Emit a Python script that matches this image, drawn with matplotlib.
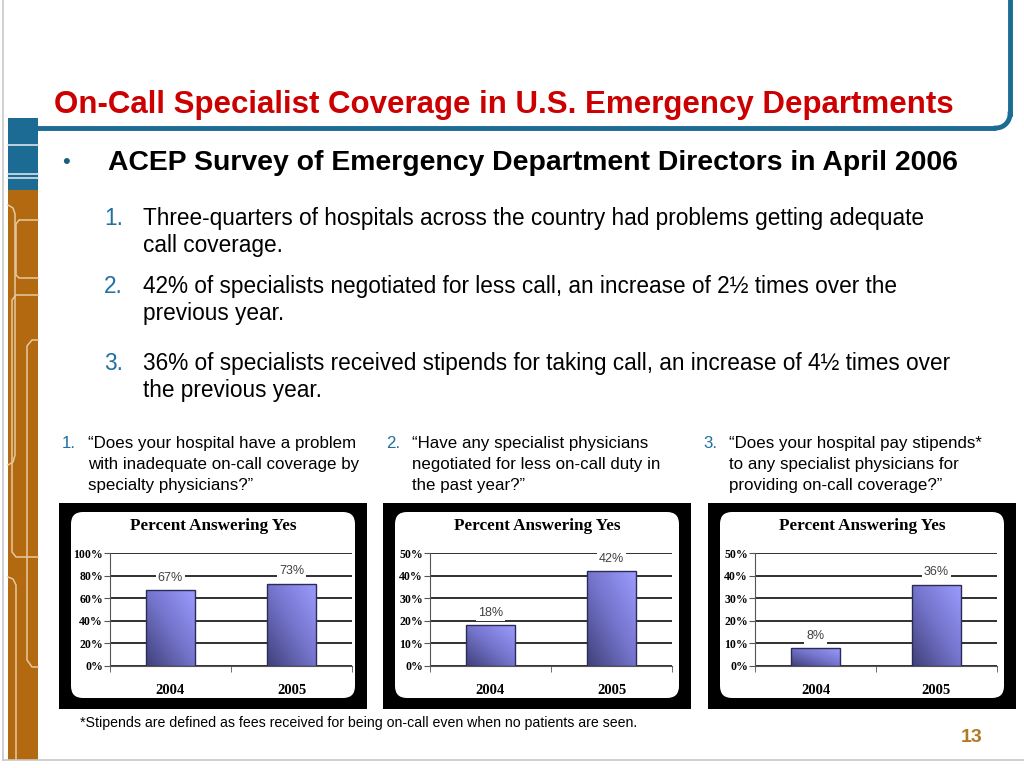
import numpy as np
import matplotlib
matplotlib.use("Agg")
from matplotlib import pyplot as plt
from matplotlib.patches import Rectangle, FancyBboxPatch
from matplotlib.ticker import FuncFormatter

# data
years = ["2004", "2005"]
problem_pct = [67, 73]
negotiated_pct = [18, 42]
stipend_pct = [8, 36]

chart_values = [problem_pct, negotiated_pct, stipend_pct]
chart_ymax = [100, 50, 50]
chart_ystep = [20, 10, 10]

title = "On-Call Specialist Coverage in U.S. Emergency Departments"
subtitle = "ACEP Survey of Emergency Department Directors in April 2006"
points = [
    ["Three-quarters of hospitals across the country had problems getting adequate",
     "call coverage."],
    ["42% of specialists negotiated for less call, an increase of 2\u00bd times over the",
     "previous year."],
    ["36% of specialists received stipends for taking call, an increase of 4\u00bd times over",
     "the previous year."],
]
questions = [
    ["\u201cDoes your hospital have a problem", "with inadequate on-call coverage by",
     "specialty physicians?\u201d"],
    ["\u201cHave any specialist physicians", "negotiated for less on-call duty in",
     "the past year?\u201d"],
    ["\u201cDoes your hospital pay stipends*", "to any specialist physicians for",
     "providing on-call coverage?\u201d"],
]
footnote = "*Stipends are defined as fees received for being on-call even when no patients are seen."
page_no = "13"

BLUE = "#1b6b95"
ORANGE = "#b2690f"
RED = "#cc0000"
NUMBLUE = "#2070a0"
VA = "center_baseline"

W, H = 1024, 768
fig = plt.figure(figsize=(W / 100, H / 100), dpi=100)
fig.patch.set_facecolor("white")

# background axes in pixel coordinates
bg = fig.add_axes([0, 0, 1, 1])
bg.set_xlim(0, W)
bg.set_ylim(H, 0)
bg.axis("off")

# slide borders
bg.plot([3, 3], [0, 760], color="#c8c8c8", lw=1.2)
bg.plot([3, W], [760, 760], color="#c8c8c8", lw=1.2)

# header frame
t = np.linspace(0, np.pi / 2, 20)
cx, cy, r = 996, 114, 14
bg.plot([36, 996], [128, 128], color=BLUE, lw=3.5, solid_capstyle="butt")
bg.plot(cx + r * np.sin(t), cy + r * np.cos(t), color=BLUE, lw=3.5)
bg.plot([1010, 1010], [0, 114], color=BLUE, lw=3.5)

# left stripe
bg.add_patch(Rectangle((8, 118), 30, 72, color=BLUE, lw=0))
bg.add_patch(Rectangle((8, 190), 30, 570, color=ORANGE, lw=0))
for yy in [145, 174, 178]:
    bg.plot([8, 38], [yy, yy], color="#d8e4ea", lw=1.2)
deco = "#e6c9a0"
bg.plot([8, 13, 15, 15, 13, 8], [205, 208, 214, 455, 462, 465], color=deco, lw=1.1)
bg.plot([38, 19, 16, 16, 19, 38], [220, 220, 224, 275, 278, 278], color=deco, lw=1.1)
bg.plot([38, 16, 12, 12, 16, 38], [295, 295, 300, 552, 557, 557], color=deco, lw=1.1)
bg.plot([38, 32, 27, 27, 32, 38], [340, 340, 346, 660, 667, 667], color=deco, lw=1.1)
bg.plot([8, 13, 16, 16], [577, 579, 585, 760], color=deco, lw=1.1)

# title and subtitle
bg.text(54, 101, title, color=RED, fontsize=22.5, fontweight="bold",
        family="Liberation Sans", va=VA, ha="left")
bg.text(62, 160, "\u2022", color="#1a5f80", fontsize=16, va=VA, ha="left",
        family="Liberation Sans")
bg.text(108, 160, subtitle, color="black", fontsize=20.4, fontweight="bold",
        family="Liberation Sans", va=VA, ha="left")

# numbered points
for i, (lines, y0) in enumerate(zip(points, [216, 284, 361])):
    bg.text(104, y0, f"{i + 1}.", color=NUMBLUE, fontsize=16.3, family="Liberation Sans",
            va=VA, ha="left")
    for j, line in enumerate(lines):
        bg.text(143, y0 + 27 * j, line, color="black", fontsize=16.3,
                family="Liberation Sans", va=VA, ha="left")

# questions above charts
for i, (lines, x0) in enumerate(zip(questions, [62, 386, 703])):
    bg.text(x0, 442, f"{i + 1}.", color=NUMBLUE, fontsize=12.2, family="Liberation Sans",
            va=VA, ha="left")
    for j, line in enumerate(lines):
        bg.text(x0 + 26, 442 + 21 * j, line, color="black", fontsize=12.2,
                family="Liberation Sans", va=VA, ha="left")

# chart panels
panel_x = [59, 383, 708]
panel_w = 308
for k in range(3):
    px = panel_x[k]
    bg.add_patch(Rectangle((px, 503), panel_w, 206, color="black", lw=0))
    bg.add_patch(FancyBboxPatch((px + 12, 512), panel_w - 24, 186,
                                boxstyle="round,pad=0,rounding_size=12",
                                fc="white", ec="none"))
    bg.text(px + panel_w / 2, 524, "Percent Answering Yes", fontsize=12.3,
            fontweight="bold", family="Liberation Serif", ha="center", va=VA)

    ax_left = px + 51 if k == 0 else px + 47
    ax = fig.add_axes([ax_left / W, 1 - 666 / H, (352 - 110) / W, 113 / H])
    vals = chart_values[k]
    bars = ax.bar(np.arange(len(years)), vals, width=0.41, color="none",
                  edgecolor="#2b2b55", lw=1.0, zorder=3)
    ax.set_xlim(-0.5, 1.5)
    ax.set_ylim(0, chart_ymax[k])
    ax.set_yticks(np.arange(0, chart_ymax[k] + 1, chart_ystep[k]))
    ax.yaxis.set_major_formatter(FuncFormatter(lambda v, p: f"{int(v)}%"))
    ax.grid(axis="y", color="#202020", lw=1.3)
    ax.set_axisbelow(True)
    for s in ["top", "right"]:
        ax.spines[s].set_visible(False)
    ax.spines["left"].set_color("#555555")
    ax.spines["bottom"].set_color("#555555")
    ax.tick_params(axis="y", length=4, color="#555555", labelsize=8.5, pad=1)
    ax.set_xticks([-0.5, 0.5, 1.5], minor=True)
    ax.tick_params(axis="x", which="minor", length=4, color="#555555")
    ax.tick_params(axis="x", which="major", length=0, labelsize=10.5, pad=13)
    ax.set_xticks(np.arange(len(years)))
    ax.set_xticklabels(years)
    for lab in ax.get_xticklabels() + ax.get_yticklabels():
        lab.set_fontweight("bold")
        lab.set_family("Liberation Serif")

    # gradient fill clipped to each bar
    grad = np.add.outer(np.linspace(0, 1, 64), np.linspace(0, 1, 64)) / 2
    cmap = matplotlib.colors.LinearSegmentedColormap.from_list(
        "bar", ["#40407a", "#7474cc", "#9c9cff"])
    for b in bars:
        x0, y0 = b.get_x(), b.get_y()
        im = ax.imshow(grad, cmap=cmap, origin="lower", aspect="auto", zorder=2,
                       extent=[x0, x0 + b.get_width(), y0, y0 + b.get_height()])
        im.set_clip_path(b)
    ax.set_xlim(-0.5, 1.5)
    ax.set_ylim(0, chart_ymax[k])

    for i, v in enumerate(vals):
        ax.annotate(f"{v}%", (i, v), xytext=(0, 10), textcoords="offset points",
                    ha="center", va=VA, fontsize=9, color="#404040",
                    family="Liberation Sans",
                    bbox=dict(fc="white", ec="none", pad=1.5), zorder=4)

# footnote and page number
bg.text(80, 722, footnote, fontsize=10.2, family="Liberation Sans", va=VA, ha="left")
bg.text(972, 735, page_no, fontsize=14, fontweight="bold", color="#b07a20",
        family="Liberation Sans", va=VA, ha="center")

fig.savefig("out.png", dpi=100)
